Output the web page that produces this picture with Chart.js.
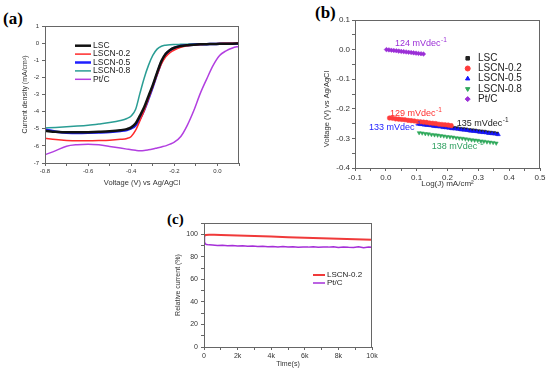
<!DOCTYPE html>
<html>
<head>
<meta charset="utf-8">
<script src="https://cdn.jsdelivr.net/npm/chart.js"></script>
<style>
  body { margin: 0; width: 550px; height: 373px; background: #fff; position: relative; overflow: hidden; }
  canvas { position: absolute; }
  .tag { position: absolute; font: bold 17px "Liberation Serif", "Times New Roman", serif; line-height: 1; color: #000; }
</style>
</head>
<body>
<div class="tag" style="left:3px;top:10px">(a)</div>
<div class="tag" style="left:315px;top:4px">(b)</div>
<div class="tag" style="left:167px;top:212px;font-size:15px">(c)</div>
<canvas id="chartA" width="262" height="195" style="left:0;top:0"></canvas>
<canvas id="chartB" width="260" height="195" style="left:290px;top:0"></canvas>
<canvas id="chartC" width="250" height="173" style="left:150px;top:200px"></canvas>
<script>
// (a) ORR polarisation curves, current density in mA/cm2
const orrVolt = [-0.8,-0.75,-0.7,-0.65,-0.6,-0.55,-0.5,-0.45,-0.42,-0.4,-0.38,-0.36,-0.34,-0.32,-0.3,-0.28,-0.26,-0.24,-0.22,-0.2,-0.17,-0.14,-0.11,-0.08,-0.05,-0.02,0.01,0.04,0.07,0.1];
const orrLSC    = [-5.12,-5.18,-5.21,-5.21,-5.20,-5.18,-5.15,-5.09,-5.02,-4.92,-4.70,-4.25,-3.75,-3.10,-2.45,-1.72,-1.05,-0.62,-0.40,-0.27,-0.17,-0.12,-0.09,-0.07,-0.06,-0.05,-0.04,-0.03,-0.03,-0.02];
const orrLSCN02 = [-5.55,-5.63,-5.68,-5.70,-5.70,-5.69,-5.67,-5.62,-5.57,-5.45,-5.10,-4.55,-3.95,-3.25,-2.55,-1.85,-1.22,-0.80,-0.55,-0.40,-0.25,-0.16,-0.11,-0.08,-0.06,-0.04,-0.02,-0.01,0.00,0.02];
const orrLSCN05 = [-5.05,-5.17,-5.23,-5.25,-5.24,-5.22,-5.19,-5.13,-5.07,-4.98,-4.80,-4.42,-3.90,-3.25,-2.55,-1.80,-1.12,-0.66,-0.42,-0.28,-0.17,-0.12,-0.09,-0.07,-0.06,-0.05,-0.04,-0.03,-0.03,-0.02];
const orrLSCN08 = [-4.95,-4.92,-4.88,-4.84,-4.79,-4.72,-4.64,-4.52,-4.40,-4.25,-3.88,-2.95,-2.05,-1.30,-0.72,-0.35,-0.18,-0.12,-0.09,-0.08,-0.07,-0.06,-0.05,-0.05,-0.04,-0.04,-0.03,-0.03,-0.02,-0.02];
const orrPtC    = [-6.52,-6.28,-6.02,-5.93,-5.90,-5.94,-6.03,-6.13,-6.19,-6.23,-6.26,-6.28,-6.27,-6.23,-6.18,-6.12,-6.06,-6.00,-5.90,-5.78,-5.45,-4.80,-3.95,-2.95,-2.10,-1.30,-0.72,-0.45,-0.28,-0.19];
const aXTicks = [-0.8,-0.7,-0.6,-0.5,-0.4,-0.3,-0.2,-0.1,0,0.1];
const aXLabels = [-0.8,-0.6,-0.4,-0.2,0];
const aYTicks = [1,0,-1,-2,-3,-4,-5,-6,-7];

// (b) Tafel plots, Log(J) vs voltage
const tafelLscX = [0.11,0.12,0.13,0.14,0.15,0.16,0.17,0.18,0.19,0.20,0.21,0.22,0.23,0.24,0.25,0.26,0.27,0.28,0.29,0.30,0.31,0.32,0.33,0.34,0.35,0.36];
const tafelLscY = [-0.250,-0.251,-0.253,-0.254,-0.255,-0.257,-0.258,-0.259,-0.261,-0.262,-0.264,-0.265,-0.266,-0.268,-0.269,-0.270,-0.272,-0.273,-0.274,-0.276,-0.277,-0.278,-0.280,-0.281,-0.282,-0.284];
const tafel02X = [0.012,0.022,0.032,0.042,0.052,0.062,0.072,0.082,0.092,0.102,0.112,0.122,0.132,0.142,0.152,0.162,0.172,0.182,0.192,0.202,0.212];
const tafel02Y = [-0.231,-0.232,-0.234,-0.235,-0.236,-0.237,-0.239,-0.240,-0.241,-0.243,-0.244,-0.245,-0.246,-0.248,-0.249,-0.250,-0.252,-0.253,-0.254,-0.255,-0.257];
const tafel05X = [0.105,0.115,0.125,0.135,0.145,0.155,0.165,0.175,0.185,0.195,0.205,0.215,0.225,0.235,0.245,0.255,0.265,0.275,0.285,0.295,0.305,0.315,0.325,0.335,0.345,0.355,0.365];
const tafel05Y = [-0.252,-0.253,-0.255,-0.256,-0.257,-0.259,-0.260,-0.261,-0.263,-0.264,-0.265,-0.267,-0.268,-0.269,-0.271,-0.272,-0.273,-0.275,-0.276,-0.277,-0.279,-0.280,-0.281,-0.283,-0.284,-0.285,-0.287];
const tafel08X = [0.108,0.118,0.128,0.138,0.148,0.158,0.168,0.178,0.188,0.198,0.208,0.218,0.228,0.238,0.248,0.258,0.268,0.278,0.288,0.298,0.308,0.318,0.328,0.338,0.348,0.358];
const tafel08Y = [-0.281,-0.282,-0.284,-0.285,-0.287,-0.288,-0.289,-0.291,-0.292,-0.294,-0.295,-0.296,-0.298,-0.299,-0.300,-0.302,-0.303,-0.305,-0.306,-0.307,-0.309,-0.310,-0.312,-0.313,-0.314,-0.316];
const tafelPtX = [0.002,0.010,0.018,0.026,0.034,0.042,0.050,0.058,0.066,0.074,0.082,0.090,0.098,0.106,0.114,0.122];
const tafelPtY = [0.000,-0.001,-0.002,-0.003,-0.004,-0.005,-0.006,-0.007,-0.008,-0.009,-0.010,-0.011,-0.012,-0.013,-0.014,-0.015];
const slopeText = ['124 mVdec','129 mVdec','135 mVdec','133 mVdec','138 mVdec'];
const slopeAt = [[0.030,0.019],[0.0135,-0.215],[0.23,-0.249],[-0.0545,-0.264],[0.149,-0.328]];
const slopeColor = ['#9b2fd6','#ff3030','#222222','#2323ff','#2ea060'];
const bXTicks = [-0.1,-0.05,0,0.05,0.1,0.15,0.2,0.25,0.3,0.35,0.4,0.45,0.5];
const bXLabels = [-0.1,0,0.1,0.2,0.3,0.4,0.5];
const bYTicks = [0.1,0.05,0,-0.05,-0.1,-0.15,-0.2,-0.25,-0.3,-0.35,-0.4];
const bYLabels = [0.1,0,-0.1,-0.2,-0.3,-0.4];

// (c) chronoamperometry, relative current (%)
const stabRedT = [0,100,300,600,1000,2000,3000,4000,5000,6000,7000,8000,9000,10000];
const stabRedV = [98.2,99.3,99.6,99.6,99.4,99.0,98.5,98.0,97.4,96.9,96.4,96.0,95.6,95.2];
const stabPtT = [0,30,80,150,300,500,800,1100,1400,1700,2000,2300,2600,2900,3200,3500,3800,4100,4400,4700,5000,5300,5600,5900,6200,6500,6800,7100,7400,7700,8000,8300,8600,8900,9200,9500,9800,10000];
const stabPtV = [99,93,91.5,90.9,90.6,90.4,90.1,90.3,89.8,90.0,89.6,89.9,89.3,89.5,89.1,89.4,89.0,89.2,88.8,89.1,88.7,88.9,88.5,88.8,88.6,88.9,88.4,88.7,88.6,88.9,88.2,88.8,88.5,88.3,88.9,88.1,88.6,88.5];
const cXTicks = [0,1000,2000,3000,4000,5000,6000,7000,8000,9000,10000];
const cXMajor = [0,2000,4000,6000,8000,10000];
const cXLabels = ['0','2k','4k','6k','8k','10k'];
const cYTicks = [110,100,90,80,70,60,50,40,30,20,10,0];
const cYLabels = [100,80,60,40,20,0];

const FONT = '"Liberation Sans", Arial, sans-serif';
Chart.defaults.font.family = FONT;
Chart.defaults.color = '#333';
Chart.defaults.animation = false;

const pts = (xs, ys) => xs.map((x, i) => ({x: x, y: ys[i]}));

// box round the plot area
const framePlugin = {
  id: 'frame',
  afterDatasetsDraw(chart) {
    const {ctx, chartArea: a} = chart;
    ctx.save();
    ctx.strokeStyle = '#666';
    ctx.lineWidth = 1;
    ctx.strokeRect(Math.round(a.left) + 0.5, Math.round(a.top) + 0.5, Math.round(a.right - a.left) - 1, Math.round(a.bottom - a.top));
    ctx.restore();
  }
};

// legend drawn inside the plot
const boxLegend = {
  id: 'boxLegend',
  afterDatasetsDraw(chart, args, opts) {
    const ctx = chart.ctx;
    ctx.save();
    ctx.font = opts.size + 'px ' + FONT;
    ctx.textBaseline = 'middle';
    chart.data.datasets.forEach((ds, i) => {
      const y = opts.y + i * opts.gap;
      if (opts.swatch === 'line') {
        ctx.strokeStyle = ds.borderColor;
        ctx.lineWidth = ds.borderWidth;
        ctx.beginPath();
        ctx.moveTo(opts.x, y);
        ctx.lineTo(opts.x + opts.len, y);
        ctx.stroke();
      } else {
        ctx.fillStyle = ds.backgroundColor;
        ctx.strokeStyle = ds.borderColor;
        ctx.lineWidth = 1;
        Chart.helpers.drawPoint(ctx, {pointStyle: ds.pointStyle, rotation: ds.rotation || 0, radius: 2.5, borderWidth: 1}, opts.x, y);
      }
      ctx.fillStyle = '#222';
      ctx.fillText(ds.label, opts.textX, y);
    });
    ctx.restore();
  }
};

function axis(cfg) {
  return {
    type: 'linear',
    min: cfg.min,
    max: cfg.max,
    afterBuildTicks: s => { s.ticks = cfg.ticks.map(v => ({value: v})); },
    afterFit: s => { if (cfg.width) s.width = cfg.width; if (cfg.height) s.height = cfg.height; },
    ticks: {
      autoSkip: false, maxRotation: 0, padding: cfg.pad, font: {size: cfg.font}, color: '#333',
      callback: cfg.label
    },
    grid: { drawOnChartArea: false, tickLength: 3, color: '#666' },
    border: { color: '#666' },
    title: cfg.title ? { display: true, text: cfg.title, font: {size: cfg.titleSize}, color: '#333', padding: cfg.titlePad } : { display: false }
  };
}

// ---------- (a) ----------
new Chart(document.getElementById('chartA'), {
  type: 'line',
  data: {
    datasets: [
      { label: 'LSC', data: pts(orrVolt, orrLSC), borderColor: '#111111', borderWidth: 2.5 },
      { label: 'LSCN-0.2', data: pts(orrVolt, orrLSCN02), borderColor: '#ff2a2a', borderWidth: 1.5 },
      { label: 'LSCN-0.5', data: pts(orrVolt, orrLSCN05), borderColor: '#1f1fff', borderWidth: 2.5 },
      { label: 'LSCN-0.8', data: pts(orrVolt, orrLSCN08), borderColor: '#2a9d94', borderWidth: 1.5 },
      { label: 'Pt/C', data: pts(orrVolt, orrPtC), borderColor: '#b23fe0', borderWidth: 1.5 }
    ]
  },
  options: {
    responsive: false,
    cubicInterpolationMode: 'monotone',
    elements: { point: { radius: 0 } },
    layout: { padding: { top: 26, right: 23, left: 0, bottom: 0 } },
    plugins: {
      legend: { display: false },
      tooltip: { enabled: false },
      boxLegend: { swatch: 'line', x: 75, len: 16, textX: 93, y: 45.7, gap: 8.4, size: 8.5 }
    },
    scales: {
      x: axis({ min: -0.8, max: 0.1, ticks: aXTicks, height: 32, pad: 2, font: 6,
        label: v => aXLabels.includes(v) ? v.toFixed(1) : '',
        title: 'Voltage (V) vs Ag/AgCl', titleSize: 7.5, titlePad: {top: 0, bottom: 8} }),
      y: axis({ min: -7, max: 1, ticks: aYTicks, width: 45, pad: 3, font: 6,
        label: v => String(v),
        title: 'Current density (mA/cm²)', titleSize: 7, titlePad: {top: 21, bottom: 0} })
    }
  },
  plugins: [framePlugin, boxLegend]
});

// ---------- (b) ----------
const slopeNotes = {
  id: 'slopeNotes',
  afterDatasetsDraw(chart) {
    const {ctx, scales} = chart;
    ctx.save();
    ctx.textBaseline = 'middle';
    slopeText.forEach((t, i) => {
      const x = scales.x.getPixelForValue(slopeAt[i][0]);
      const y = scales.y.getPixelForValue(slopeAt[i][1]);
      ctx.fillStyle = slopeColor[i];
      ctx.font = '9px ' + FONT;
      ctx.fillText(t, x, y);
      const w = ctx.measureText(t).width;
      ctx.font = '6.5px ' + FONT;
      ctx.fillText('-1', x + w + 0.5, y - 3.5);
    });
    // y-axis title sits lower than the axis centre in the original
    ctx.translate(37, 109);
    ctx.rotate(-Math.PI / 2);
    ctx.textAlign = 'center';
    ctx.fillStyle = '#333';
    ctx.font = '7.5px ' + FONT;
    ctx.fillText('Voltage (V) vs Ag/AgCl', 0, 0);
    ctx.restore();
  }
};

new Chart(document.getElementById('chartB'), {
  type: 'scatter',
  data: {
    datasets: [
      { label: 'LSC', data: pts(tafelLscX, tafelLscY), pointStyle: 'rect', backgroundColor: '#222222', borderColor: '#222222', order: 9 },
      { label: 'LSCN-0.2', data: pts(tafel02X, tafel02Y), pointStyle: 'circle', backgroundColor: '#ff3b3b', borderColor: '#ff3b3b' },
      { label: 'LSCN-0.5', data: pts(tafel05X, tafel05Y), pointStyle: 'triangle', backgroundColor: '#1515ff', borderColor: '#1515ff' },
      { label: 'LSCN-0.8', data: pts(tafel08X, tafel08Y), pointStyle: 'triangle', rotation: 180, backgroundColor: '#2ea85a', borderColor: '#2ea85a' },
      { label: 'Pt/C', data: pts(tafelPtX, tafelPtY), pointStyle: 'rectRot', backgroundColor: '#9b2fd6', borderColor: '#9b2fd6' }
    ]
  },
  options: {
    responsive: false,
    elements: { point: { radius: 2.3, borderWidth: 0.5 } },
    layout: { padding: { top: 20, right: 10, left: 0, bottom: 0 } },
    plugins: {
      legend: { display: false },
      tooltip: { enabled: false },
      boxLegend: { swatch: 'point', x: 177.7, textX: 188, y: 58.3, gap: 10.2, size: 10 }
    },
    scales: {
      x: axis({ min: -0.1, max: 0.5, ticks: bXTicks, height: 27, pad: 2, font: 8,
        label: v => bXLabels.includes(v) ? v.toFixed(1) : '',
        title: 'Log(J) mA/cm²', titleSize: 8, titlePad: {top: 0, bottom: 6} }),
      y: axis({ min: -0.4, max: 0.1, ticks: bYTicks, width: 65, pad: 2, font: 8,
        label: v => bYLabels.includes(v) ? v.toFixed(1) : '' })
    }
  },
  plugins: [framePlugin, boxLegend, slopeNotes]
});

// ---------- (c) ----------
new Chart(document.getElementById('chartC'), {
  type: 'line',
  data: {
    datasets: [
      { label: 'LSCN-0.2', data: pts(stabRedT, stabRedV), borderColor: '#f03a3a', borderWidth: 2 },
      { label: 'Pt/C', data: pts(stabPtT, stabPtV), borderColor: '#a52fd8', borderWidth: 1.5 }
    ]
  },
  options: {
    responsive: false,
    elements: { point: { radius: 0 }, line: { tension: 0 } },
    layout: { padding: { top: 23, right: 28, left: 0, bottom: 0 } },
    plugins: {
      legend: { display: false },
      tooltip: { enabled: false },
      boxLegend: { swatch: 'line', x: 163, len: 12, textX: 177, y: 75, gap: 8, size: 8 }
    },
    scales: {
      x: axis({ min: 0, max: 10000, ticks: cXTicks, height: 26, pad: 2, font: 7,
        label: v => { const k = cXMajor.indexOf(v); return k >= 0 ? cXLabels[k] : ''; },
        title: 'Time(s)', titleSize: 7, titlePad: {top: 0, bottom: 5} }),
      y: axis({ min: 0, max: 110, ticks: cYTicks, width: 54, pad: 3, font: 7,
        label: v => cYLabels.includes(v) ? String(v) : '',
        title: 'Relative current (%)', titleSize: 7, titlePad: {top: 24, bottom: 0} })
    }
  },
  plugins: [framePlugin, boxLegend]
});
</script>
</body>
</html>
